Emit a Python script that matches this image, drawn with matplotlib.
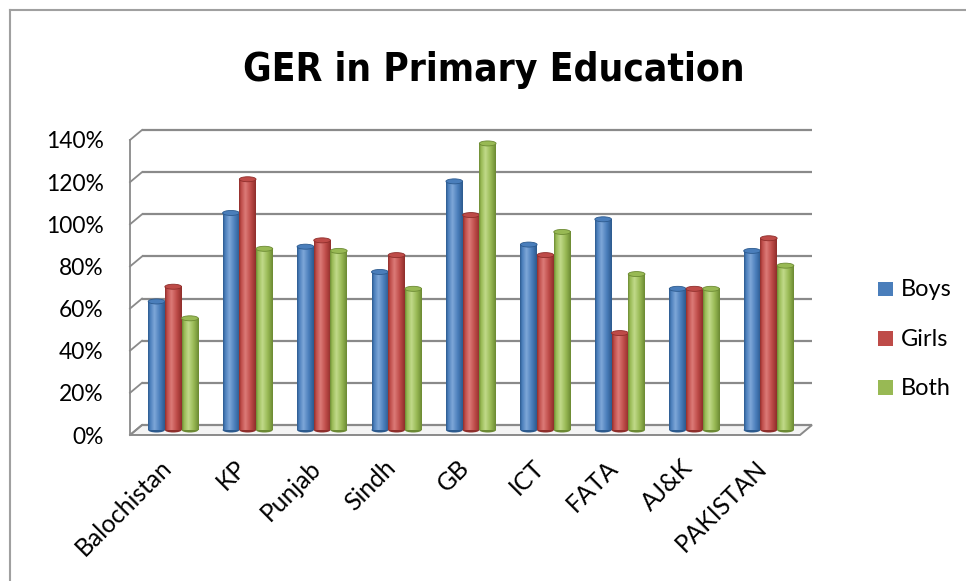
import numpy as np
import matplotlib
matplotlib.use("Agg")
import matplotlib.pyplot as plt
from matplotlib import font_manager
from matplotlib.colors import LinearSegmentedColormap
from matplotlib.patches import Ellipse, Patch, Polygon
from matplotlib.lines import Line2D

# Gross enrolment ratio (%) by region
regions = ["Balochistan", "KP", "Punjab", "Sindh", "GB", "ICT", "FATA", "AJ&K", "PAKISTAN"]
boys = [61, 103, 87, 75, 118, 88, 100, 67, 85]
girls = [68, 119, 90, 83, 102, 83, 46, 67, 91]
both = [53, 86, 85, 67, 136, 94, 74, 67, 78]
series_names = ["Boys", "Girls", "Both"]
y_ticks = [0, 20, 40, 60, 80, 100, 120, 140]

W, H = 966, 581
fig = plt.figure(figsize=(W / 100, H / 100), dpi=100)
fig.patch.set_facecolor("white")


def fx(p):
    return p / W


def fy(p):
    return 1 - p / H


# front plane of the 3-D plot box
left_px, right_px, top_px, bottom_px = 130, 800, 140, 435
ax = fig.add_axes([fx(left_px), fy(bottom_px), (right_px - left_px) / W, (bottom_px - top_px) / H])
ax.set_xlim(0, len(regions))
ax.set_ylim(0, 140)
ax.set_facecolor("none")
for s in ax.spines.values():
    s.set_visible(False)

px_per_x = (right_px - left_px) / len(regions)
px_per_y = (bottom_px - top_px) / 140
DX = 12 / px_per_x          # depth offset of the back wall
DY = 10 / px_per_y
grid_col = "#8a8a8a"

# floor
ax.add_patch(Polygon([(0, 0), (len(regions), 0), (len(regions) + DX, DY), (DX, DY)],
                     closed=True, facecolor="#f4f4f4", edgecolor=grid_col, lw=1.4,
                     clip_on=False, zorder=1))
# back wall grid lines and side wall
for v in y_ticks:
    ax.plot([DX, len(regions) + DX], [v + DY, v + DY], color=grid_col, lw=1.6,
            clip_on=False, zorder=1, solid_capstyle="butt")
    ax.plot([0, DX], [v, v + DY], color=grid_col, lw=1.3, clip_on=False, zorder=1)
ax.plot([0, 0], [0, 140], color=grid_col, lw=1.3, clip_on=False, zorder=1)

# cylinders
palette = [
    ("#2c5a8e", "#4a7ebb", "#7ea7d8"),
    ("#8f2e2b", "#be4b48", "#dc7b78"),
    ("#6c8a33", "#98b954", "#c1da8a"),
]
bar_w = 16.7 / px_per_x
ell_h = 5 / px_per_y
depth_f = 0.5
base = depth_f * DY
grad = np.linspace(0, 1, 96).reshape(1, -1)

for j, vals in enumerate([boys, girls, both]):
    dark, mid, light = palette[j]
    cmap = LinearSegmentedColormap.from_list(
        f"cyl{j}", [(0, dark), (0.12, mid), (0.38, light), (0.7, mid), (1, dark)])
    for i, v in enumerate(vals):
        xc = i + 0.5 + depth_f * DX + (j - 1) * bar_w
        z = 3 + j
        ax.add_patch(Ellipse((xc, base), bar_w, ell_h, facecolor=dark,
                             edgecolor="none", clip_on=False, zorder=z))
        ax.imshow(grad, extent=[xc - bar_w / 2, xc + bar_w / 2, base, base + v],
                  origin="lower", aspect="auto", cmap=cmap, interpolation="bilinear",
                  zorder=z, clip_on=False)
        ax.add_patch(Ellipse((xc, base + v), bar_w, ell_h, facecolor=mid,
                             edgecolor=dark, lw=0.6, clip_on=False, zorder=z + 0.1))

ax.set_xlim(0, len(regions))
ax.set_ylim(0, 140)

label_font = ["Lato", "DejaVu Sans"]
ax.set_yticks(y_ticks, [f"{v}%" for v in y_ticks], fontsize=15, family=label_font)
ax.set_xticks([i + 0.4 for i in range(len(regions))], regions,
              rotation=45, ha="right", rotation_mode="anchor", fontsize=15, family=label_font)
ax.tick_params(axis="y", length=0, pad=19)
ax.tick_params(axis="x", length=0, pad=15)

# narrow bold face for the heading
installed = {f.name for f in font_manager.fontManager.ttflist}
title_kw = dict(fontweight="bold")
if "Liberation Sans Narrow" in installed:
    title_kw["family"] = "Liberation Sans Narrow"
else:
    cond = font_manager.findfont(font_manager.FontProperties(
        family="DejaVu Sans", stretch="condensed", weight="bold"))
    if "Condensed" in cond:
        title_kw["family"] = "DejaVu Sans"
        title_kw["fontstretch"] = "condensed"
    else:
        title_kw["family"] = "Roboto"
title = fig.text(fx(494), fy(81), "GER in Primary Education", ha="center", va="baseline",
                 fontsize=40, **title_kw)

handles = [Patch(facecolor=palette[k][1], edgecolor="none") for k in range(3)]
leg = fig.legend(handles, series_names, loc="center left", bbox_to_anchor=(fx(878), fy(339)),
                 frameon=False, prop={"family": label_font, "size": 15},
                 handlelength=0.7, handleheight=0.7, handletextpad=0.4,
                 labelspacing=1.35, borderpad=0, borderaxespad=0)

# size the text so it spans the same widths as in the layout spec
fig.canvas.draw()
r = fig.canvas.get_renderer()
tw = title.get_window_extent(r).width
title.set_fontsize(min(44, 40 * 502 / tw))
lw_ = max(t.get_window_extent(r).width for t in ax.get_yticklabels())
lab_size = 15 * 58 / lw_
for t in ax.get_yticklabels():
    t.set_fontsize(lab_size)
for t in ax.get_xticklabels():
    t.set_fontsize(lab_size * 1.08)
for t in leg.get_texts():
    t.set_fontsize(lab_size * 1.03)

# chart frame
fig.add_artist(Line2D([fx(10), fx(10)], [fy(10), 0], color="#a0a0a0", lw=1.5,
                      transform=fig.transFigure))
fig.add_artist(Line2D([fx(10), 1], [fy(10), fy(10)], color="#a0a0a0", lw=1.5,
                      transform=fig.transFigure))

fig.savefig("out.png", dpi=100)
